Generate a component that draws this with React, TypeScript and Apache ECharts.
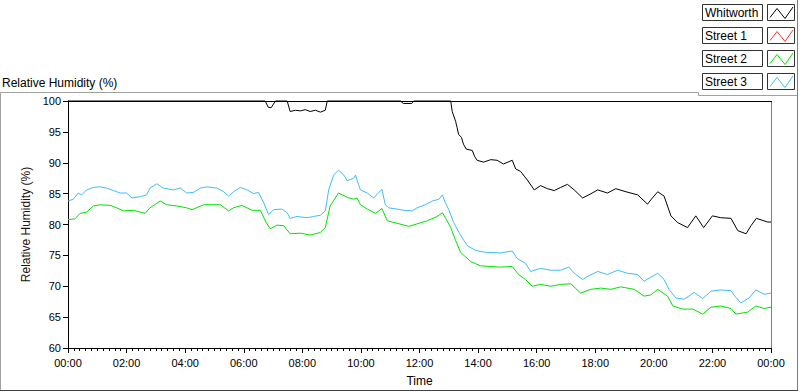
import React, { useEffect, useRef } from "react";
import * as echarts from "echarts";

const seriesNames = ["Whitworth", "Street 1", "Street 2", "Street 3"];
const seriesColors = ["#000000", "#ff3030", "#00e400", "#3fbcff"];

// [minutes since 00:00, relative humidity %]
const whitworth: [number, number][] = [
  [0, 100], [404, 100], [410, 99.0], [416, 98.9], [425, 100], [449, 100], [455, 98.3], [466, 98.5],
  [476, 98.4], [486, 98.6], [496, 98.3], [507, 98.5], [517, 98.2], [527, 98.5], [531, 100], [681, 100],
  [687, 99.6], [704, 99.6], [708, 100], [784, 100], [787, 98.3], [794, 96.7], [797, 95.7], [800, 94.6],
  [806, 94.1], [810, 93.0], [816, 92.2], [828, 92.0], [833, 91.0], [838, 90.4], [851, 90.1], [866, 90.5],
  [879, 90.4], [892, 89.8], [910, 90.4], [917, 89.0], [927, 88.6], [941, 87.2], [955, 85.6], [968, 86.3],
  [982, 85.8], [996, 85.5], [1009, 86.0], [1023, 86.5], [1037, 85.6], [1054, 84.3], [1067, 84.8],
  [1085, 85.6], [1105, 85.1], [1122, 85.8], [1143, 85.3], [1167, 84.8], [1187, 83.3], [1197, 84.3],
  [1208, 85.3], [1221, 84.6], [1235, 81.4], [1249, 80.3], [1269, 79.5], [1286, 81.4], [1302, 79.5],
  [1320, 81.4], [1337, 81.1], [1358, 81.0], [1372, 79.0], [1389, 78.5], [1399, 79.8], [1410, 81.0],
  [1433, 80.4], [1440, 80.4],
];

const street1: [number, number][] = [];

const street2: [number, number][] = [
  [0, 80.8], [14, 80.9], [25, 81.8], [38, 82.0], [52, 83.0], [66, 83.2], [86, 83.1], [100, 82.7],
  [113, 82.2], [134, 82.3], [158, 81.8], [168, 82.7], [189, 83.8], [202, 83.2], [223, 83.0], [243, 82.7],
  [254, 82.4], [278, 83.2], [312, 83.2], [329, 82.2], [339, 82.7], [356, 83.1], [377, 82.3], [394, 82.3],
  [404, 80.6], [414, 79.3], [428, 79.9], [442, 79.8], [455, 78.5], [476, 78.6], [496, 78.3], [517, 78.7],
  [527, 79.5], [537, 83.0], [554, 85.1], [572, 84.4], [585, 84.1], [592, 84.3], [599, 83.2], [613, 82.5],
  [630, 81.8], [643, 82.6], [654, 80.6], [674, 80.2], [698, 79.7], [715, 80.1], [736, 80.6], [756, 81.3],
  [767, 81.9], [773, 81.1], [784, 79.5], [794, 77.4], [804, 75.5], [825, 74.0], [845, 73.3], [886, 73.1],
  [910, 73.2], [923, 71.9], [937, 71.1], [951, 70.0], [968, 70.3], [989, 70.0], [1009, 70.3], [1030, 70.4],
  [1050, 68.9], [1071, 69.5], [1091, 69.7], [1112, 69.5], [1132, 69.9], [1160, 69.5], [1180, 68.4],
  [1194, 68.6], [1208, 69.5], [1228, 68.4], [1239, 66.8], [1259, 66.3], [1280, 66.3], [1300, 65.5],
  [1317, 66.6], [1337, 66.8], [1358, 66.4], [1368, 65.5], [1392, 65.8], [1409, 66.8], [1426, 66.4],
  [1440, 66.6],
];

const street3: [number, number][] = [
  [0, 83.8], [11, 84.1], [21, 85.1], [28, 84.8], [38, 85.6], [52, 86.0], [66, 86.1], [79, 85.9],
  [93, 85.5], [107, 85.1], [120, 85.1], [131, 84.3], [148, 84.5], [161, 84.8], [168, 85.9], [182, 86.6],
  [195, 85.9], [216, 85.6], [230, 85.9], [243, 85.1], [257, 85.2], [271, 85.9], [285, 86.1], [305, 85.9],
  [319, 85.3], [329, 84.6], [339, 85.3], [353, 86.0], [367, 85.6], [380, 85.0], [390, 85.2], [401, 83.5],
  [411, 81.6], [421, 82.4], [438, 82.5], [449, 81.9], [455, 81.0], [469, 81.3], [490, 81.1], [503, 81.3],
  [517, 81.5], [527, 82.2], [534, 85.6], [544, 88.0], [554, 88.8], [565, 88.0], [572, 87.1], [585, 87.5],
  [589, 88.0], [595, 86.5], [599, 85.6], [613, 85.1], [626, 84.3], [643, 85.7], [650, 83.2], [657, 82.7],
  [674, 82.5], [688, 82.3], [705, 82.2], [715, 82.7], [732, 83.2], [746, 83.8], [760, 84.1], [767, 84.8],
  [773, 83.5], [780, 82.4], [790, 80.3], [801, 78.7], [811, 77.4], [819, 76.5], [835, 75.8], [855, 75.5],
  [886, 75.4], [910, 75.7], [920, 74.5], [937, 73.7], [948, 72.4], [968, 72.9], [989, 72.6], [1009, 72.6],
  [1026, 73.1], [1037, 72.1], [1054, 71.1], [1067, 71.7], [1085, 72.4], [1105, 71.9], [1126, 72.6],
  [1146, 72.1], [1167, 71.9], [1180, 70.8], [1190, 71.3], [1208, 72.1], [1221, 71.1], [1231, 69.5],
  [1245, 68.1], [1262, 67.9], [1283, 69.0], [1300, 68.0], [1317, 69.2], [1337, 69.4], [1358, 69.3],
  [1364, 68.6], [1378, 67.3], [1395, 68.1], [1409, 69.4], [1426, 68.7], [1440, 68.9],
];

const seriesData = [whitworth, street1, street2, street3];

const xMin = 0;
const xMax = 1440;
const xInterval = 120;
const yMin = 60;
const yMax = 100;
const yInterval = 5;

const chartTitle = "Relative Humidity (%)";
const yAxisName = "Relative Humidity (%)";
const xAxisName = "Time";

const FONT = "'Liberation Sans', Arial, sans-serif";

function fmtTime(v: number): string {
  const h = Math.floor(v / 60) % 24;
  const m = Math.round(v % 60);
  return String(h).padStart(2, "0") + ":" + String(m).padStart(2, "0");
}

export default function App() {
  const ref = useRef<HTMLDivElement>(null);

  useEffect(() => {
    document.body.style.margin = "0";
    if (!ref.current) return;
    const chart = echarts.init(ref.current, undefined, { renderer: "svg" });

    const gLeft = 68;
    const gTop = 101;
    const gWidth = 703;
    const gHeight = 252;
    const gRight = gLeft + gWidth;
    const gBottom = gTop + gHeight;

    const legendEls: any[] = [];
    seriesNames.forEach((name, i) => {
      const y = 4.5 + i * 23;
      legendEls.push({
        type: "rect",
        shape: { x: 702.5, y, width: 60, height: 16 },
        style: { fill: "#fff", stroke: "#333", lineWidth: 1 },
        silent: true,
      });
      legendEls.push({
        type: "text",
        x: 705,
        y: y + 8.5,
        style: {
          text: name,
          fill: "#000",
          font: `12px ${FONT}`,
          textVerticalAlign: "middle",
          verticalAlign: "middle",
        },
        silent: true,
      });
      legendEls.push({
        type: "rect",
        shape: { x: 767.5, y, width: 27, height: 16 },
        style: { fill: "#fff", stroke: "#333", lineWidth: 1 },
        silent: true,
      });
      legendEls.push({
        type: "polyline",
        shape: {
          points: [
            [770, y + 13],
            [777, y + 4],
            [785, y + 14],
            [793, y + 2.5],
          ],
        },
        style: { stroke: seriesColors[i], lineWidth: 1, fill: "none" },
        silent: true,
      });
    });

    const frameEls: any[] = [
      { type: "polyline", shape: { points: [[0.5, 391], [0.5, 92.5], [698.5, 92.5], [698.5, 95.5], [797.5, 95.5]] }, style: { stroke: "#a0a0a0", lineWidth: 1, fill: "none" }, silent: true },
      { type: "line", shape: { x1: 797.5, y1: 0, x2: 797.5, y2: 391 }, style: { stroke: "#808080", lineWidth: 1 }, silent: true },
      { type: "line", shape: { x1: 0, y1: 390.5, x2: 798, y2: 390.5 }, style: { stroke: "#404040", lineWidth: 1 }, silent: true },
      { type: "line", shape: { x1: gLeft, y1: gTop + 0.5, x2: gRight + 1, y2: gTop + 0.5 }, style: { stroke: "#000", lineWidth: 1 }, silent: true },
      { type: "line", shape: { x1: gRight + 0.5, y1: gTop + 1, x2: gRight + 0.5, y2: gBottom }, style: { stroke: "#808080", lineWidth: 1 }, silent: true },
      {
        type: "text",
        x: 2,
        y: 83,
        style: { text: chartTitle, fill: "#000", font: `12px ${FONT}`, verticalAlign: "middle", textVerticalAlign: "middle" },
        silent: true,
      },
    ];

    chart.setOption({
      animation: false,
      backgroundColor: "#ffffff",
      textStyle: { fontFamily: FONT },
      grid: { left: gLeft, top: gTop, width: gWidth, height: gHeight, containLabel: false },
      xAxis: {
        type: "value",
        min: xMin,
        max: xMax,
        interval: xInterval,
        name: xAxisName,
        nameLocation: "middle",
        nameGap: 27,
        nameTextStyle: { color: "#000", fontSize: 12, fontFamily: FONT },
        axisLine: { show: true, onZero: false, lineStyle: { color: "#000", width: 1 } },
        axisTick: { show: true, length: 5, lineStyle: { color: "#000", width: 1 } },
        minorTick: { show: true, splitNumber: 10, length: 3, lineStyle: { color: "#000", width: 1 } },
        splitLine: { show: false },
        minorSplitLine: { show: false },
        axisLabel: { color: "#000", fontSize: 11, fontFamily: FONT, margin: 9, formatter: (v: number) => fmtTime(v) },
      },
      yAxis: {
        type: "value",
        min: yMin,
        max: yMax,
        interval: yInterval,
        name: yAxisName,
        nameLocation: "middle",
        nameGap: 32,
        nameTextStyle: { color: "#201010", fontSize: 12, fontFamily: FONT },
        axisLine: { show: true, onZero: false, lineStyle: { color: "#000", width: 1 } },
        axisTick: { show: true, length: 5, lineStyle: { color: "#000", width: 1 } },
        splitLine: { show: false },
        axisLabel: { color: "#000", fontSize: 11, fontFamily: FONT, margin: 7 },
      },
      series: seriesNames.map((name, i) => ({
        name,
        type: "line",
        data: seriesData[i],
        showSymbol: false,
        symbol: "none",
        clip: false,
        lineStyle: { color: seriesColors[i], width: 1 },
        itemStyle: { color: seriesColors[i] },
        emphasis: { disabled: true },
        z: 2 + i,
      })),
      graphic: [...frameEls, ...legendEls],
    });

    return () => chart.dispose();
  }, []);

  return <div ref={ref} style={{ width: 800, height: 392 }} />;
}
